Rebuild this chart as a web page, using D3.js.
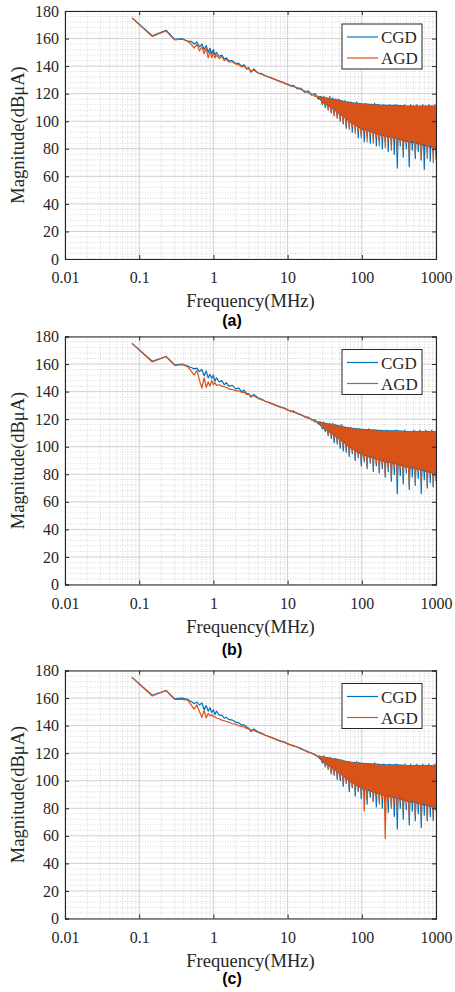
<!DOCTYPE html>
<html>
<head>
<meta charset="utf-8">
<script src="https://cdn.jsdelivr.net/npm/d3@7"></script>
<style>
  body { margin: 0; background: #fff; }
  svg { display: block; }
</style>
</head>
<body>
<div id="chart"></div>
<script>
// frequencies (MHz) shared by every trace
const freqLow = [0.08, 0.15, 0.23, 0.3, 0.38, 0.45, 0.5, 0.55, 0.6, 0.65, 0.7, 0.75, 0.8, 0.85, 0.9, 0.95,
  1.0, 1.05, 1.1, 1.2, 1.3, 1.4, 1.5, 1.6, 1.8, 2.0, 2.2, 2.4, 2.6, 2.8, 3.0, 3.2, 3.5, 4, 4.5, 5, 6, 7, 8, 9,
  10, 11, 12, 13.5, 15, 17, 19, 21, 23.5, 26];
const freqBand = [28, 29.3, 30.7, 32.2, 33.7, 35.3, 37, 38.8, 40.6, 42.5, 44.6, 46.7, 48.9, 51.2, 53.7, 56.2,
  58.9, 61.7, 64.7, 67.8, 71, 74.4, 77.9, 81.6, 85.5, 89.6, 93.9, 98.4, 103, 108, 113, 118, 124, 130, 136, 143,
  149, 157, 164, 172, 180, 189, 198, 207, 217, 227, 238, 250, 262, 274, 287, 301, 315, 330, 346, 362, 380, 398,
  417, 436, 457, 479, 502, 526, 551, 577, 605, 633, 664, 695, 728, 763, 800, 838, 878, 920, 963, 1000];

const xTicks = [0.01, 0.1, 1, 10, 100, 1000];
const xTickLabels = ['0.01', '0.1', '1', '10', '100', '1000'];
const yTicks = [0, 20, 40, 60, 80, 100, 120, 140, 160, 180];
const seriesNames = ['CGD', 'AGD'];
const panelLabels = ['(a)', '(b)', '(c)'];

// magnitude (dBuA), panel (a)
const cgdA = [175, 162, 166, 159.5, 160, 158, 158, 156, 157.5, 154, 156, 152, 155, 150, 153, 149, 152, 148, 150, 147,
  148, 145, 146, 144, 144, 142, 142, 140, 141, 138, 139, 135.5, 138, 135, 134.5, 133, 131.5, 130, 129, 127.5,
  127, 125.5, 126, 123.5, 124, 121, 122, 119, 120, 116,
  118, 112, 118, 110, 117, 109, 118, 106, 117, 104, 116, 103, 116, 100, 115, 98, 115, 95, 114, 97,
  114, 92, 113, 94, 114, 88, 113, 90, 112, 85, 113, 89, 112, 84, 112, 87, 113, 82, 112, 86,
  111, 80, 112, 85, 111, 78, 112, 83, 111, 76, 112, 66, 111, 82, 111, 74, 112, 80, 111, 67,
  112, 79, 111, 73, 112, 78, 111, 72, 112, 65, 111, 77, 112, 71, 111, 75, 112, 72];
const agdA = [175, 161.5, 165.5, 159, 159.5, 158, 156, 153, 156, 151, 154, 149, 153, 146, 151, 146, 150, 146, 148, 145.5,
  147, 144, 145, 143, 143, 141.5, 141, 139.5, 140, 138, 138, 136.5, 137, 135, 134, 133, 131.5, 130, 128.5, 128,
  126.5, 126, 125, 124.5, 123, 122, 120.5, 120, 118, 118,
  117, 113, 118, 111, 117, 108, 117, 107, 116, 105, 116, 102, 115, 101, 115, 99, 114, 97, 114, 94,
  113, 96, 113, 91, 113, 93, 112, 88, 112, 92, 112, 85, 112, 90, 111, 84, 112, 89, 111, 82,
  111, 88, 111, 81, 111, 86, 111, 79, 111, 87, 111, 77, 111, 85, 111, 78, 111, 84, 111, 75,
  111, 86, 111, 76, 111, 83, 111, 72, 111, 85, 111, 73, 111, 82, 111, 70, 111, 92];

// panel (b)
const cgdB = [175, 162, 165.5, 159.5, 160, 158.5, 157.5, 156.5, 157, 154.5, 156, 151.5, 155, 150, 152.5, 149.5, 152, 147.5, 150, 147,
  148, 145, 146.5, 144, 144.5, 142, 142.5, 140, 141, 138.5, 138.5, 136, 138, 135.5, 134.5, 133, 131.5, 130, 129, 128,
  127, 125.5, 126, 124, 123.5, 121.5, 121.5, 119.5, 119.5, 116.5,
  118, 113, 118, 111, 117, 108, 117, 106, 117, 103, 116, 102, 115, 99, 116, 97, 114, 96, 114, 93,
  114, 95, 113, 90, 113, 92, 113, 86, 112, 89, 112, 84, 113, 88, 112, 82, 112, 86, 111, 81,
  112, 84, 111, 78, 112, 82, 111, 75, 111, 80, 112, 66, 111, 79, 111, 73, 112, 81, 111, 69,
  111, 78, 112, 72, 111, 77, 112, 66, 111, 76, 112, 70, 111, 74, 112, 71, 111, 75];
const agdB = [175, 161.5, 165.5, 159, 159.5, 158, 155, 152, 155.5, 148, 142.5, 150, 143, 147, 144, 148, 145, 146.5, 144.5, 145,
  144, 143.5, 143, 142, 141.5, 140.5, 140.5, 139.5, 139.5, 138, 138, 137, 137, 135, 134, 133, 131.5, 130, 128.5, 128,
  126.5, 126, 125, 124.5, 123, 122, 120.5, 120, 118, 118,
  117, 114, 117, 112, 117, 109, 116, 108, 116, 106, 115, 104, 115, 101, 115, 100, 114, 98, 114, 95,
  113, 97, 113, 92, 113, 94, 112, 89, 112, 91, 112, 86, 112, 90, 111, 85, 111, 88, 111, 83,
  111, 87, 111, 80, 111, 86, 111, 78, 111, 85, 111, 76, 111, 84, 111, 79, 111, 83, 111, 72,
  111, 85, 111, 74, 111, 82, 111, 73, 111, 84, 111, 72, 111, 80, 111, 71, 111, 88];

// panel (c)
const cgdC = [175, 162, 165.5, 159.5, 160, 159, 157.5, 156, 157, 155, 156.5, 151.5, 154.5, 150.5, 153, 149.5, 151.5, 148, 150.5, 147.5,
  147.5, 145.5, 146, 144.5, 144, 142.5, 142, 140.5, 140.5, 139, 138, 135.5, 137.5, 135.5, 134.5, 133, 131.5, 130, 129, 128,
  127, 126, 125.5, 124.5, 123.5, 122, 121, 120, 119, 117,
  117, 113, 118, 110, 117, 109, 117, 105, 116, 104, 116, 101, 115, 100, 115, 96, 114, 98, 114, 92,
  113, 95, 113, 89, 114, 92, 113, 87, 112, 90, 112, 83, 112, 88, 112, 85, 113, 81, 112, 86,
  111, 80, 112, 84, 111, 77, 112, 82, 111, 74, 112, 65, 111, 80, 111, 72, 112, 79, 111, 68,
  112, 78, 111, 71, 112, 76, 111, 66, 112, 75, 111, 71, 112, 74, 111, 72, 112, 78];
const agdC = [175, 161.5, 165.5, 159, 159, 158.5, 155, 152, 155, 150, 146, 151, 145.5, 149, 147, 148, 146.5, 146.5, 145.5, 145,
  144, 143.5, 143, 142.5, 141.5, 141, 140, 139.5, 139, 138, 137.5, 137, 136.5, 135, 134, 133, 131.5, 130, 128.5, 128,
  126.5, 126, 125, 124.5, 123, 122, 120.5, 120, 118.5, 117.5,
  117, 114, 118, 111, 117, 108, 117, 106, 116, 105, 116, 103, 115, 102, 115, 98, 114, 99, 114, 95,
  113, 96, 113, 92, 113, 94, 112, 90, 112, 78, 112, 87, 112, 91, 111, 85, 111, 89, 111, 83,
  111, 87, 111, 58, 111, 86, 111, 80, 111, 84, 111, 77, 111, 85, 111, 78, 111, 83, 111, 74,
  111, 86, 111, 75, 111, 82, 111, 73, 111, 84, 111, 72, 111, 81, 111, 71, 111, 90];

// solid core of the dense high-frequency noise (upper / lower edge, dBuA)
const coreFreq = [26, 30, 40, 50, 60, 70, 80, 100, 150, 200, 300, 400, 500, 700, 850, 1000];
const coreUpperCGD = [118.5, 117.5, 116.5, 115.5, 114.5, 114, 113.5, 113, 112.5, 112, 112, 111.5, 111.5, 111.5, 111.5, 111.5];
const coreLowerCGD = [116.5, 113, 109, 105, 102, 99, 97, 94, 91, 89, 87, 85, 84, 82, 81, 80];
const coreUpperAGD = [118.5, 117, 116, 115, 114, 113.5, 113, 112.5, 112, 111.5, 111.5, 111, 111, 111, 111, 111];
const coreLowerAGD = [117.5, 114, 110, 106, 103, 100, 98, 95, 92, 90, 88, 86, 85, 83, 82, 81];

const panels = [[cgdA, agdA], [cgdB, agdB], [cgdC, agdC]];
const cores = [[coreUpperCGD, coreLowerCGD], [coreUpperAGD, coreLowerAGD]];

const width = 455, height = 992;
const left = 65, right = 436, plotH = 248;
const panelTop = [11, 336.5, 670.5];
const panelLabelY = [326, 655, 984];
const colors = ['#0072BD', '#D95319'];
const serif = 'Liberation Serif, Times New Roman, serif';
const axisColor = '#262626';

const freq = freqLow.concat(freqBand);

const svg = d3.select('#chart').append('svg')
  .attr('width', width).attr('height', height);

const x = d3.scaleLog().domain([0.01, 1000]).range([left, right]);

// minor grid positions (2..9 in every decade, every 4 dB)
const xMinor = [];
xTicks.slice(0, -1).forEach(d => { for (let k = 2; k <= 9; k++) xMinor.push(d * k); });
const yMinor = d3.range(0, 181, 4).filter(v => v % 20 !== 0);

function drawPanel(idx, series) {
  const top = panelTop[idx];
  const bottom = top + plotH;
  const y = d3.scaleLinear().domain([0, 180]).range([bottom, top]);
  const g = svg.append('g');

  // grid
  const grid = g.append('g');
  grid.selectAll('.xm').data(xMinor).enter().append('line')
    .attr('x1', d => x(d)).attr('x2', d => x(d)).attr('y1', top).attr('y2', bottom)
    .attr('stroke', '#bdbdbd').attr('stroke-width', 0.6).attr('stroke-dasharray', '1,1.5');
  grid.selectAll('.ym').data(yMinor).enter().append('line')
    .attr('x1', left).attr('x2', right).attr('y1', d => y(d)).attr('y2', d => y(d))
    .attr('stroke', '#bdbdbd').attr('stroke-width', 0.6).attr('stroke-dasharray', '1,1.5');
  grid.selectAll('.xM').data(xTicks).enter().append('line')
    .attr('x1', d => x(d)).attr('x2', d => x(d)).attr('y1', top).attr('y2', bottom)
    .attr('stroke', '#d0d0d0').attr('stroke-width', 1);
  grid.selectAll('.yM').data(yTicks).enter().append('line')
    .attr('x1', left).attr('x2', right).attr('y1', d => y(d)).attr('y2', d => y(d))
    .attr('stroke', '#d0d0d0').attr('stroke-width', 1);

  // traces: solid noise core + the trace itself
  const line = d3.line().x((d, i) => x(freq[i])).y(d => y(d));
  series.forEach((vals, s) => {
    const [up, lo] = cores[s];
    const area = d3.area()
      .x((d, i) => x(coreFreq[i]))
      .y0((d, i) => y(lo[i]))
      .y1(d => y(d));
    g.append('path').datum(up)
      .attr('d', area)
      .attr('fill', colors[s]);
    g.append('path').datum(vals)
      .attr('d', line)
      .attr('fill', 'none')
      .attr('stroke', colors[s])
      .attr('stroke-width', 1.2)
      .attr('stroke-linejoin', 'round');
  });

  // axes, ticks pointing inward
  const ax = g.append('g');
  ax.append('g').attr('transform', `translate(0,${bottom})`)
    .call(d3.axisBottom(x).tickValues(xTicks).tickFormat((d, i) => xTickLabels[i]).tickSize(-4).tickPadding(13));
  ax.append('g').attr('transform', `translate(0,${top})`)
    .call(d3.axisTop(x).tickValues(xTicks).tickFormat('').tickSize(-4));
  ax.append('g').attr('transform', `translate(${left},0)`)
    .call(d3.axisLeft(y).tickValues(yTicks).tickSize(-4).tickPadding(6));
  ax.append('g').attr('transform', `translate(${right},0)`)
    .call(d3.axisRight(y).tickValues(yTicks).tickFormat('').tickSize(-4));
  ax.selectAll('.domain').attr('stroke', axisColor).attr('stroke-width', 1.1);
  ax.selectAll('.tick line').attr('stroke', axisColor);
  ax.selectAll('.tick text').attr('fill', axisColor)
    .attr('font-family', serif).attr('font-size', 16);

  // axis titles
  g.append('text')
    .attr('x', (left + right) / 2).attr('y', bottom + 48)
    .attr('text-anchor', 'middle').attr('font-family', serif).attr('font-size', 18.5)
    .attr('fill', axisColor).text('Frequency(MHz)');
  g.append('text')
    .attr('transform', `translate(24,${(top + bottom) / 2}) rotate(-90)`)
    .attr('text-anchor', 'middle').attr('font-family', serif).attr('font-size', 18.5)
    .attr('fill', axisColor).text('Magnitude(dBμA)');

  // legend
  const lg = g.append('g').attr('transform', `translate(342,${top + 13})`);
  lg.append('rect').attr('width', 80).attr('height', 45)
    .attr('fill', '#fff').attr('stroke', '#262626').attr('stroke-width', 1);
  seriesNames.forEach((name, s) => {
    const ly = 13 + s * 21;
    lg.append('line').attr('x1', 5).attr('x2', 36).attr('y1', ly).attr('y2', ly)
      .attr('stroke', colors[s]).attr('stroke-width', 1.2);
    lg.append('text').attr('x', 39).attr('y', ly + 6)
      .attr('font-family', serif).attr('font-size', 17).attr('fill', axisColor).text(name);
  });

  // panel label
  g.append('text')
    .attr('x', 232).attr('y', panelLabelY[idx])
    .attr('text-anchor', 'middle').attr('font-family', 'Liberation Sans, Arial, sans-serif')
    .attr('font-weight', 'bold').attr('font-size', 16).attr('fill', '#000')
    .text(panelLabels[idx]);
}

panels.forEach((series, i) => drawPanel(i, series));
</script>
</body>
</html>
